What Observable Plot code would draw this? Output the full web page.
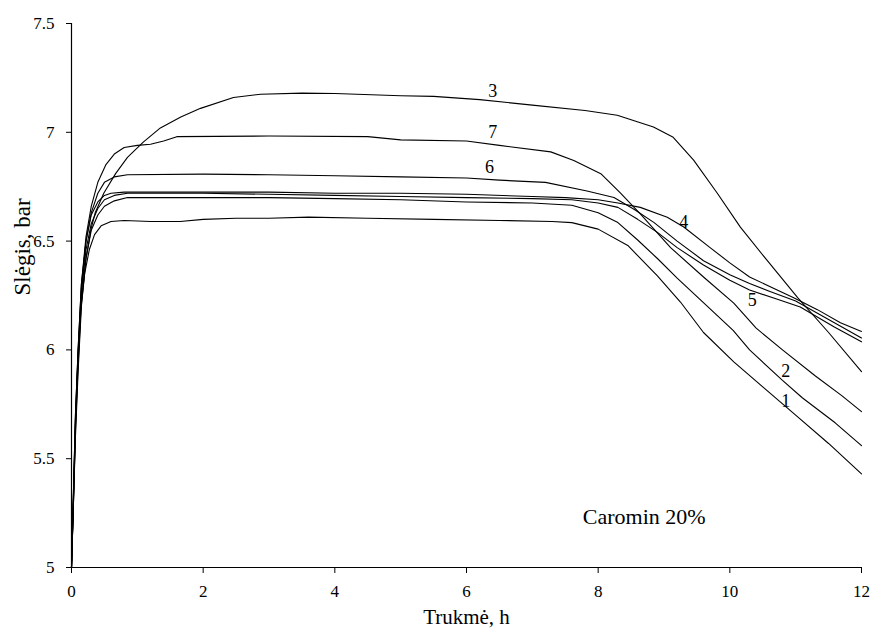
<!DOCTYPE html>
<html><head><meta charset="utf-8">
<script src="https://cdn.jsdelivr.net/npm/d3@7"></script>
<script src="https://cdn.jsdelivr.net/npm/@observablehq/plot@0.6"></script>
<style>body{margin:0;background:#fff}</style>
</head><body><div id="chart"></div>
<script>
// [time h, pressure bar]
const curve1 = [[0,5.0],[0.03,5.3],[0.06,5.65],[0.1,5.95],[0.14,6.18],[0.2,6.35],[0.27,6.46],[0.35,6.53],[0.45,6.57],[0.6,6.59],[0.8,6.595],[1.2,6.59],[1.65,6.59],[2.0,6.6],[2.5,6.605],[3.0,6.605],[3.6,6.61],[4.5,6.605],[5.5,6.6],[6.5,6.595],[7.3,6.59],[7.6,6.585],[8.0,6.555],[8.45,6.48],[8.9,6.34],[9.25,6.22],[9.6,6.08],[10.06,5.945],[10.5,5.83],[11.0,5.70],[11.5,5.57],[12,5.43]];
const curve2 = [[0,5.0],[0.03,5.3],[0.06,5.63],[0.1,5.93],[0.15,6.22],[0.22,6.42],[0.3,6.55],[0.4,6.62],[0.5,6.66],[0.65,6.685],[0.85,6.70],[2,6.70],[3,6.70],[4,6.695],[5,6.69],[6,6.68],[7,6.675],[7.6,6.665],[8.0,6.63],[8.3,6.585],[8.6,6.505],[8.9,6.42],[9.2,6.33],[9.66,6.2],[10.05,6.09],[10.3,6.0],[10.8,5.86],[11.1,5.78],[11.6,5.665],[12,5.56]];
const curve3 = [[0,5.0],[0.03,5.3],[0.06,5.6],[0.1,5.9],[0.15,6.2],[0.22,6.42],[0.3,6.56],[0.36,6.63],[0.49,6.72],[0.67,6.81],[0.85,6.885],[1.09,6.955],[1.35,7.02],[1.66,7.07],[1.96,7.11],[2.46,7.16],[2.87,7.175],[3.5,7.18],[4.0,7.178],[5.0,7.168],[5.5,7.165],[6.2,7.15],[7.0,7.125],[7.8,7.10],[8.29,7.078],[8.84,7.024],[9.14,6.977],[9.45,6.872],[9.81,6.72],[10.16,6.564],[10.57,6.41],[11.03,6.24],[11.5,6.08],[12,5.9]];
const curve4 = [[0,5.0],[0.03,5.35],[0.06,5.7],[0.1,6.0],[0.15,6.3],[0.22,6.5],[0.3,6.62],[0.4,6.68],[0.5,6.71],[0.6,6.72],[0.8,6.725],[2,6.725],[3,6.725],[4,6.72],[5,6.72],[6,6.715],[7,6.705],[7.5,6.70],[8.0,6.69],[8.3,6.675],[8.64,6.655],[9.05,6.61],[9.3,6.565],[9.7,6.47],[10.0,6.4],[10.3,6.335],[10.97,6.24],[11.33,6.185],[11.68,6.125],[12,6.085]];
const curve5 = [[0,5.0],[0.03,5.32],[0.06,5.66],[0.1,5.97],[0.15,6.26],[0.22,6.46],[0.3,6.58],[0.4,6.65],[0.5,6.69],[0.65,6.71],[0.85,6.72],[2,6.72],[3,6.715],[4,6.71],[5,6.705],[6,6.70],[7,6.695],[7.6,6.69],[8.0,6.675],[8.3,6.655],[8.6,6.6],[8.9,6.54],[9.2,6.47],[9.6,6.39],[10.0,6.32],[10.3,6.275],[10.7,6.235],[11.07,6.197],[11.58,6.106],[12,6.037]];
const curve6 = [[0,5.0],[0.03,5.33],[0.06,5.68],[0.1,5.98],[0.15,6.28],[0.22,6.5],[0.3,6.63],[0.4,6.72],[0.5,6.77],[0.65,6.795],[0.85,6.805],[2,6.808],[3,6.805],[4,6.8],[5,6.795],[6,6.79],[6.5,6.78],[7.2,6.77],[7.83,6.73],[8.24,6.70],[8.55,6.645],[8.85,6.585],[9.2,6.5],[9.6,6.41],[10.0,6.345],[10.3,6.305],[10.6,6.27],[11.0,6.225],[11.5,6.14],[12,6.055]];
const curve7 = [[0,5.0],[0.03,5.35],[0.06,5.7],[0.1,6.0],[0.15,6.3],[0.22,6.52],[0.3,6.66],[0.4,6.77],[0.52,6.85],[0.65,6.9],[0.8,6.93],[1.0,6.94],[1.2,6.945],[1.4,6.96],[1.6,6.98],[3,6.983],[4.5,6.98],[5,6.965],[6,6.96],[6.5,6.94],[7.28,6.91],[7.63,6.87],[8.04,6.81],[8.34,6.72],[8.64,6.625],[9.1,6.47],[9.6,6.335],[10.06,6.215],[10.4,6.1],[10.8,6.0],[11.3,5.88],[11.7,5.79],[12,5.716]];

const seriesNames = ["1","2","3","4","5","6","7"];
const seriesPoints = [curve1, curve2, curve3, curve4, curve5, curve6, curve7];

const labelText = ["3","7","6","4","5","2","1"];
const labelT    = [6.4, 6.4, 6.35, 9.3, 10.34, 10.85, 10.85];
const labelP    = [7.19, 7.0, 6.84, 6.587, 6.23, 5.90, 5.766];

const xTicks = [0,2,4,6,8,10,12];
const yTicks = [5,5.5,6,6.5,7,7.5];
const xTitle = "Trukmė, h";
const yTitle = "Slėgis, bar";
const note = "Caromin 20%";
const noteT = 8.7, noteP = 5.234;

const data = seriesNames.flatMap((n, i) => seriesPoints[i].map(([t, p]) => ({curve: n, t, p})));
const labels = labelText.map((s, i) => ({s, t: labelT[i], p: labelP[i]}));
const FF = "'Liberation Serif', 'Times New Roman', serif";

const chart = Plot.plot({
  width: 873, height: 628,
  marginLeft: 71, marginRight: 12, marginTop: 23, marginBottom: 61,
  style: {fontFamily: FF, fontSize: "17px", background: "#fff", color: "#000", overflow: "visible"},
  x: {domain: [0, 12]},
  y: {domain: [5, 7.5]},
  marks: [
    Plot.line(data, {x: "t", y: "p", z: "curve", stroke: "#000", strokeWidth: 1.1}),
    Plot.ruleX([0], {stroke: "#000", strokeWidth: 1.2}),
    Plot.ruleY([5], {stroke: "#000", strokeWidth: 1.2}),
    Plot.axisX({ticks: xTicks, tickSize: 6, tickPadding: 11, tickFormat: d => String(d), label: null, stroke: "#000", fontFamily: FF, fontSize: 17}),
    Plot.axisY({ticks: yTicks, tickSize: 5, tickPadding: 12, tickFormat: d => String(d), label: null, stroke: "#000", fontFamily: FF, fontSize: 17}),
    Plot.text(labels, {x: "t", y: "p", text: "s", fontFamily: FF, fontSize: 18, fill: "#000"}),
    Plot.text([note], {x: () => noteT, y: () => noteP, text: d => d, fontFamily: FF, fontSize: 22, fill: "#000"}),
    Plot.text([xTitle], {frameAnchor: "bottom", dy: 56, text: d => d, fontFamily: FF, fontSize: 21, fill: "#000"}),
    Plot.text([yTitle], {frameAnchor: "left", dx: -49, rotate: -90, text: d => d, fontFamily: FF, fontSize: 23, fill: "#000"})
  ]
});
document.getElementById("chart").appendChild(chart);
</script>
</body></html>
